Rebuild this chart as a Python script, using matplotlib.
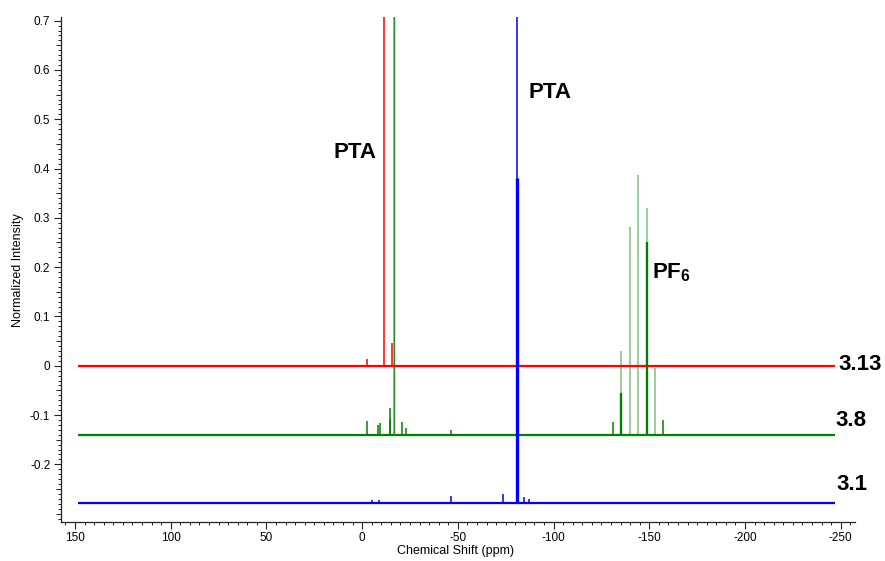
import matplotlib
matplotlib.use("Agg")
import matplotlib.pyplot as plt
from matplotlib.ticker import FixedLocator, MultipleLocator, FuncFormatter

plt.rcParams['font.family'] = ['Liberation Sans', 'DejaVu Sans']
plt.rcParams['mathtext.fontset'] = 'custom'
plt.rcParams['mathtext.rm'] = 'Liberation Sans:bold'
plt.rcParams['mathtext.bf'] = 'Liberation Sans:bold'

# --- spectra (19F NMR, chemical shift in ppm, normalized intensity) ---
samples = ["3.13", "3.8", "3.1"]
baselines = [0.0, -0.1405, -0.279]
trace_colors = ["#ff0000", "#008000", "#0000ff"]
shift_start, shift_end = 148.4, -247.0

# sample 3.13
red_shift = [-11.6, -2.6, -15.8]
red_height = [1.0, 0.014, 0.046]

# sample 3.8 (PTA signal, minor signals, PF6 septet)
green_shift = [-16.4, -2.6, -8.5, -9.3, -14.3, -14.8, -20.9, -23.0, -46.5,
               -131.0, -135.3, -140.0, -144.0, -148.7, -153.1, -157.3]
green_height = [1.0, 0.028, 0.020, 0.024, 0.032, 0.054, 0.026, 0.014, 0.010,
                0.027, 0.170, 0.421, 0.527, 0.460, 0.135, 0.031]
green_core_shift = [-135.3, -148.7]
green_core_height = [0.085, 0.392]

# sample 3.1
blue_shift = [-81.1, -73.8, -84.3, -87.1, -46.5, -5.2, -8.9]
blue_height = [1.0, 0.018, 0.013, 0.009, 0.015, 0.006, 0.006]
blue_core_shift = [-81.1]
blue_core_height = [0.659]

# tick values
x_major = [150, 100, 50, 0, -50, -100, -150, -200, -250]
y_major = [-0.2, -0.1, 0.0, 0.1, 0.2, 0.3, 0.4, 0.5, 0.6, 0.7]

fig = plt.figure(figsize=(8.85, 5.61), dpi=100)
ax = fig.add_axes([0.0686, 0.0695, 0.8975, 0.9007])
ax.set_xlim(157.5, -257.5)
ax.set_ylim(-0.317, 0.708)

traces = [
    (red_shift, red_height, [], [], 1.0, 1.1),
    (green_shift, green_height, green_core_shift, green_core_height, 0.5, 1.7),
    (blue_shift, blue_height, blue_core_shift, blue_core_height, 1.0, 2.4),
]
zorders = [3, 2, 4]
for (shift, height, cshift, cheight, spike_alpha, core_lw), base, col, z in zip(
        traces, baselines, trace_colors, zorders):
    ax.hlines(base, shift_start, shift_end, color=col, lw=1.6, zorder=z)
    tops = [base + h for h in height]
    big = [h > 0.1 for h in height]
    # strong lines are drawn as thin spikes, weak ones as short sticks
    ax.vlines([s for s, b in zip(shift, big) if b], base,
              [t for t, b in zip(tops, big) if b],
              color=col, lw=1.1, alpha=spike_alpha, zorder=z)
    ax.vlines([s for s, b in zip(shift, big) if not b], base,
              [t for t, b in zip(tops, big) if not b],
              color=col, lw=1.1, zorder=z)
    if cshift:
        ax.vlines(cshift, base, [base + h for h in cheight],
                  color=col, lw=core_lw, zorder=z + 0.5)

# the PTA spike of sample 3.8 in a solid tone
ax.vlines([green_shift[0]], baselines[1], baselines[1] + green_height[0],
          color="#2a8a2a", lw=1.0, zorder=2)

for side in ("top", "right"):
    ax.spines[side].set_visible(False)
for side in ("left", "bottom"):
    ax.spines[side].set_linewidth(0.9)
    ax.spines[side].set_color("#222222")

ax.xaxis.set_major_locator(FixedLocator(x_major))
ax.xaxis.set_minor_locator(MultipleLocator(5))
ax.yaxis.set_major_locator(FixedLocator(y_major))
ax.yaxis.set_minor_locator(MultipleLocator(0.01))

fmt = FuncFormatter(lambda v, p: ("%g" % round(v, 3)) if abs(v) > 1e-9 else "0")
ax.xaxis.set_major_formatter(fmt)
ax.yaxis.set_major_formatter(fmt)

ax.tick_params(which="major", direction="out", length=5, width=0.8,
               labelsize=8.5, pad=2.5, color="#222222")
ax.tick_params(which="minor", direction="out", length=2.2, width=0.7, color="#222222")

# medium ticks every 0.05 on the intensity axis
sec = ax.secondary_yaxis("left")
sec.set_yticks([v / 100 for v in range(-30, 71, 5)])
sec.set_yticklabels([])
sec.tick_params(direction="out", length=3.6, width=0.7, color="#222222")
sec.spines["left"].set_visible(False)

fig.text(455 / 885, 1 - 551 / 561, "Chemical Shift (ppm)", ha="center", va="center", fontsize=9)
fig.text(18 / 885, 1 - 270 / 561, "Normalized Intensity", ha="center", va="center",
         rotation=90, fontsize=9)

ax.text(3.7, 0.432, "PTA", ha="center", va="center", fontsize=16, fontweight="bold")
ax.text(-98.2, 0.554, "PTA", ha="center", va="center", fontsize=16, fontweight="bold")
ax.text(-151.4, 0.189, r"PF$_{6}$", ha="left", va="center", fontsize=16, fontweight="bold")

label_y = [0.002, -0.112, -0.241]
label_x = [-248.7, -247.2, -247.7]
for name, lx, ly in zip(samples, label_x, label_y):
    ax.text(lx, ly, name, ha="left", va="center", fontsize=16, fontweight="bold", clip_on=False)

fig.savefig("out.png", dpi=100)
